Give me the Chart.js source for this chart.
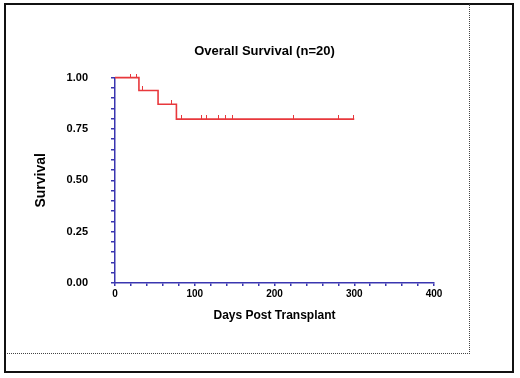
<!DOCTYPE html>
<html>
<head>
<meta charset="utf-8">
<script src="https://cdn.jsdelivr.net/npm/chart.js@4/dist/chart.umd.min.js"></script>
<style>
  html, body { margin: 0; padding: 0; background: #fff; }
  #frame { position: absolute; left: 4px; top: 3px; width: 510px; height: 370px; box-sizing: border-box; border: 2px solid #111; }
  #inner { position: absolute; left: 7px; top: 4px; width: 463px; height: 350px; box-sizing: border-box; border-right: 1px dotted #444; border-bottom: 1px dotted #444; }
  #wrap { position: absolute; left: 0; top: 0; width: 520px; height: 378px; }
</style>
</head>
<body>
<div id="frame"></div>
<div id="inner"></div>
<div id="wrap"><canvas id="kmChart"></canvas></div>
<script>
// Kaplan-Meier steps (day, survival)
const stepDays = [0, 30, 54, 77, 300];
const stepSurv = [1.0, 0.9375, 0.8705, 0.798, 0.798];
// censored patients (day, survival level at that time)
const censorDays = [20, 27, 35, 71, 84, 108, 115, 130, 138, 147, 224, 280, 299];
const censorSurv = [1.0, 1.0, 0.9375, 0.8705, 0.798, 0.798, 0.798, 0.798, 0.798, 0.798, 0.798, 0.798, 0.798];
const xLabelEvery = 100;
const yLabelEvery = 0.25;

const RED = '#e8383c';
const AXIS = '#3a36b0';

// little upward tick used as censor mark
const censorMark = document.createElement('canvas');
censorMark.width = 1; censorMark.height = 8;
const mctx = censorMark.getContext('2d');
mctx.fillStyle = RED;
mctx.fillRect(0, 0, 1, 4);

const font = (size, weight) => ({ family: '"Liberation Sans", Arial, sans-serif', size, weight });

new Chart(document.getElementById('kmChart'), {
  type: 'line',
  data: {
    datasets: [{
      data: stepDays.map((d, i) => ({ x: d, y: stepSurv[i] })),
      borderColor: RED, borderWidth: 1.6, stepped: true,
      pointRadius: 0, fill: false, clip: false,
    }, {
      type: 'scatter',
      data: censorDays.map((d, i) => ({ x: d, y: censorSurv[i] })),
      pointStyle: censorMark, pointRadius: 4, clip: false,
    }],
  },
  options: {
    responsive: true, maintainAspectRatio: false, animation: false,
    layout: { padding: { left: 9, right: 0, top: 0, bottom: 0 } },
    plugins: {
      legend: { display: false },
      tooltip: { enabled: false },
      title: {
        display: true, text: 'Overall Survival (n=20)', color: '#000',
        font: font(13, 'bold'), padding: { top: 44, bottom: 18 },
      },
    },
    scales: {
      x: {
        type: 'linear', min: 0, max: 400,
        afterFit: s => { s.height = 95; },
        grid: { drawOnChartArea: false, color: AXIS, tickLength: 3, lineWidth: 1.5 },
        border: { color: AXIS, width: 1.5 },
        ticks: {
          stepSize: 20, autoSkip: false, maxRotation: 0, padding: 2,
          color: '#000', font: font(10, 'bold'),
          callback: v => (v % xLabelEvery === 0 ? String(v) : ''),
        },
        title: {
          display: true, text: 'Days Post Transplant', color: '#000',
          font: font(12, 'bold'), padding: { top: 0, bottom: 55 },
        },
      },
      y: {
        min: 0, max: 1,
        afterFit: s => { s.width = 106; },
        grid: { drawOnChartArea: false, color: AXIS, tickLength: 4, lineWidth: 1.5 },
        border: { color: AXIS, width: 1.5 },
        ticks: {
          stepSize: 0.05, autoSkip: false, padding: 23,
          color: '#000', font: font(11, 'bold'),
          callback: v => (Math.abs(v / yLabelEvery - Math.round(v / yLabelEvery)) < 1e-6 ? v.toFixed(2) : ''),
        },
        title: {
          display: true, text: 'Survival', color: '#000',
          font: font(14, 'bold'), padding: { top: 24, bottom: 0 },
        },
      },
      pad: {
        type: 'linear', position: 'right',
        afterFit: s => { s.width = 86; },
        grid: { display: false }, border: { display: false }, ticks: { display: false },
      },
    },
  },
});
</script>
</body>
</html>
